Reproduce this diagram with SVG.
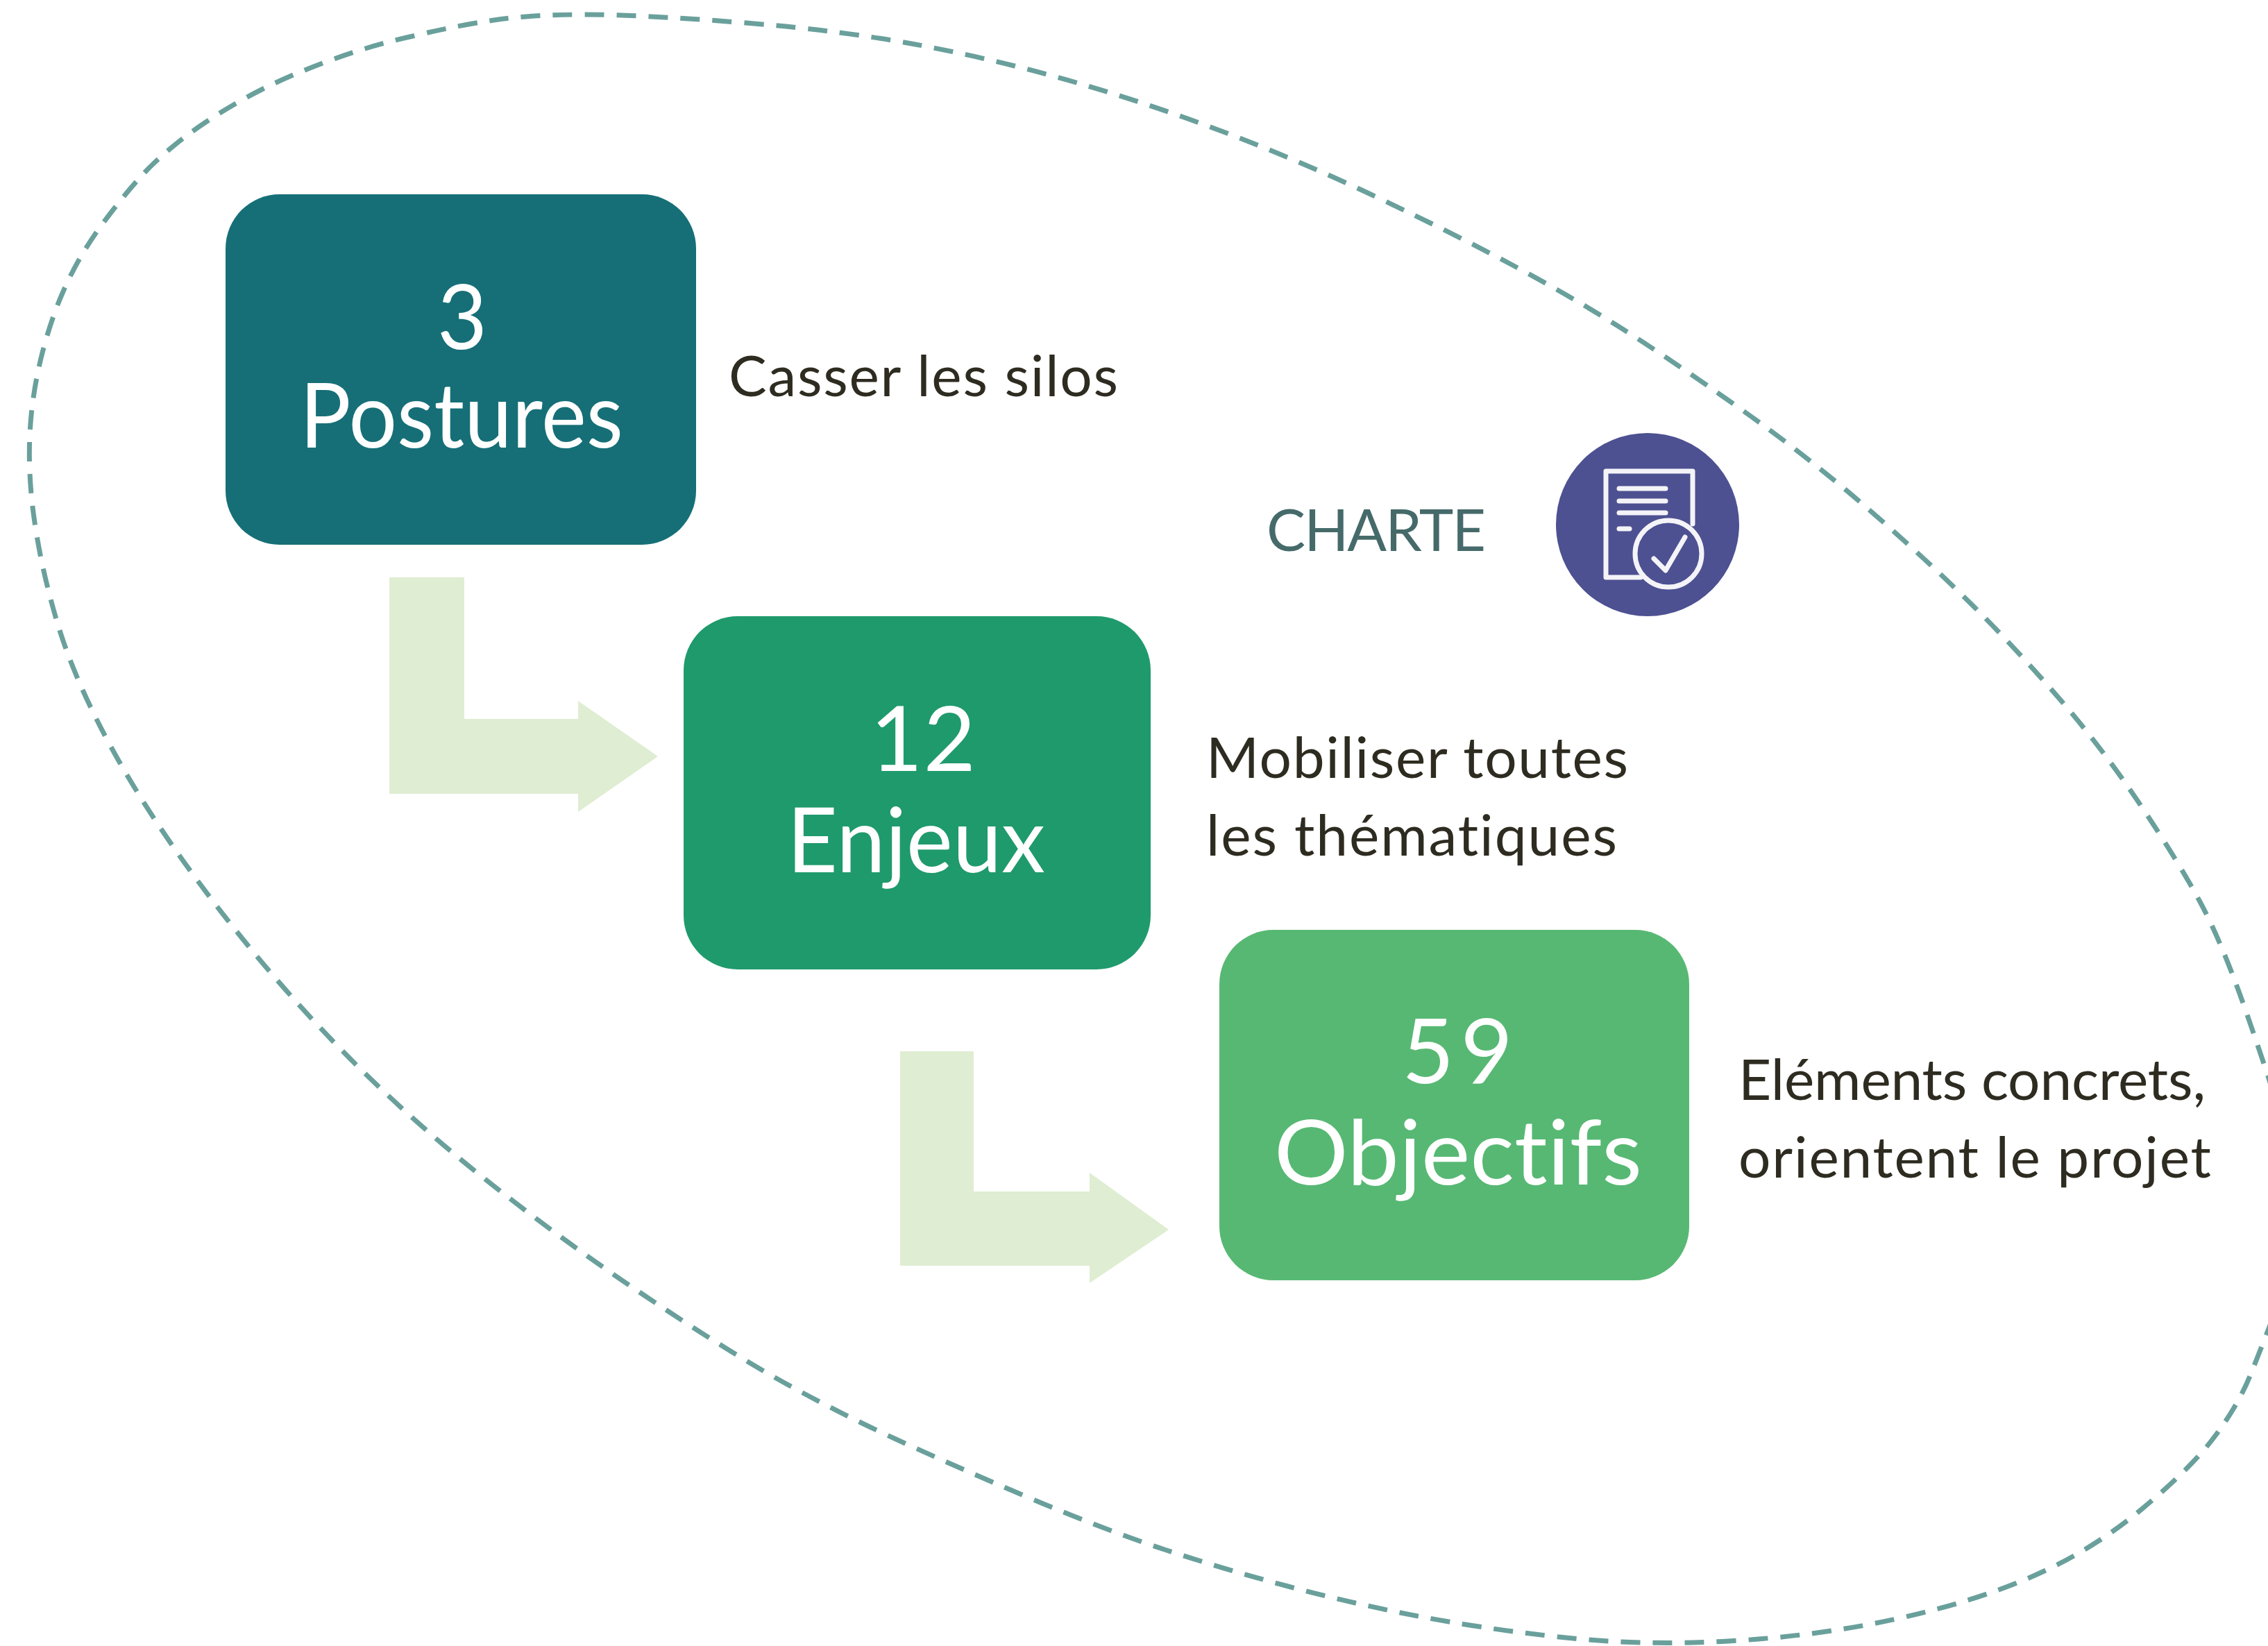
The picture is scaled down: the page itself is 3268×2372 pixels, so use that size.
<svg xmlns="http://www.w3.org/2000/svg" width="3268" height="2372" viewBox="0 0 3268 2372">
<style>
text{font-family:"Lato","Open Sans","Liberation Sans",sans-serif;font-variant-ligatures:none;font-feature-settings:"liga" 0}
.big{fill:#fff;font-size:130px}
.lab{fill:#2e2b20;font-size:82px}
.arrow{fill:#dfedd2}
.ic{fill:none;stroke:#f4f4f8;stroke-width:7;stroke-linecap:round;stroke-linejoin:round}
</style>
<rect width="3268" height="2372" fill="#fff"/>
<path id="boundary" fill="none" stroke="#6aa09c" stroke-width="7" stroke-dasharray="28 18" d="M3290 1620Q3268 1548 3234.500 1452.500Q3201 1357 3170 1299.500Q3139 1242 3085.500 1162Q3032 1082 2971 1011Q2910 940 2845 875Q2780 810 2692 733.500Q2604 657 2502 585Q2400 513 2330 469Q2260 425 2177.500 381Q2095 337 1990 287Q1885 237 1776 195Q1667 153 1556 120.500Q1445 88 1330 66Q1215 44 1068.500 32.500Q922 21 843.500 21Q765 21 711.500 29Q658 37 597 51.500Q536 65 478.500 86Q421 107 379 128Q337 149 296.500 176Q256 203 223.500 233.500Q191 264 147 323.500Q103 383 78.500 451.500Q54 520 46 589Q38 658 47.500 734.500Q57 811 82 895.500Q107 980 162.500 1081Q218 1182 306 1297.500Q394 1413 491.500 1512.500Q589 1612 700 1700Q811 1788 928 1866.500Q1045 1945 1124.500 1989.500Q1204 2034 1290 2073.500Q1376 2113 1483 2158.500Q1590 2204 1678 2233Q1766 2262 1856 2286Q1946 2310 2038 2328Q2130 2346 2246.500 2359Q2363 2372 2490 2365Q2617 2358 2730 2333.500Q2843 2309 2929 2271.500Q3015 2234 3087 2174Q3159 2114 3192 2069Q3225 2025 3243 1980.500Q3261 1936 3290 1860"/>
<g id="connectors">
<path class="arrow" d="M561 832H669V1036H833V1010L948 1090L833 1170V1144H561Z"/>
<path class="arrow" d="M1297 1515H1403V1717H1570V1690L1684 1772L1570 1849V1824H1297Z"/>
</g>
<g id="node-postures">
<rect x="325" y="280" width="678" height="505" rx="78" fill="#166f77"/>
<text class="big" x="630" y="503" textLength="72" lengthAdjust="spacingAndGlyphs" font-size="140">3</text>
<text class="big" x="432" y="645" textLength="466" lengthAdjust="spacingAndGlyphs">Postures</text>
</g>
<g id="node-enjeux">
<rect x="985" y="888" width="673" height="509" rx="78" fill="#1f9a6c"/>
<text class="big" x="1254" y="1111" textLength="152" lengthAdjust="spacing">12</text>
<text class="big" x="1134" y="1257" textLength="372" lengthAdjust="spacingAndGlyphs">Enjeux</text>
</g>
<g id="node-objectifs">
<rect x="1757" y="1340" width="677" height="505" rx="78" fill="#57b873"/>
<text class="big" x="2020" y="1561" textLength="160" lengthAdjust="spacing">59</text>
<text class="big" x="1836" y="1707" textLength="530" lengthAdjust="spacingAndGlyphs">Objectifs</text>
</g>
<g id="label-casser"><text class="lab" x="1050" y="571" textLength="561" lengthAdjust="spacing">Casser les silos</text></g>
<g id="label-mobiliser">
<text class="lab" x="1738" y="1121" textLength="608" lengthAdjust="spacing">Mobiliser toutes</text>
<text class="lab" x="1738" y="1233" textLength="592" lengthAdjust="spacing">les thématiques</text>
</g>
<g id="label-elements">
<text class="lab" x="2505" y="1585" textLength="673" lengthAdjust="spacing">Eléments concrets,</text>
<text class="lab" x="2505" y="1697" textLength="681" lengthAdjust="spacing">orientent le projet</text>
</g>
<g id="node-charte">
<text x="1825" y="794" font-size="84" fill="#466a6a" textLength="316" lengthAdjust="spacing">CHARTE</text>
<circle cx="2374" cy="756" r="132" fill="#4d5191"/>
<path class="ic" d="M2364 832H2314V679H2439V755"/>
<path class="ic" d="M2333 704H2400M2333 722H2400M2333 739H2400M2333 762H2348"/>
<circle class="ic" cx="2404" cy="798" r="48"/>
<path class="ic" d="M2383 805L2400 822L2428 774"/>
</g>
</svg>
